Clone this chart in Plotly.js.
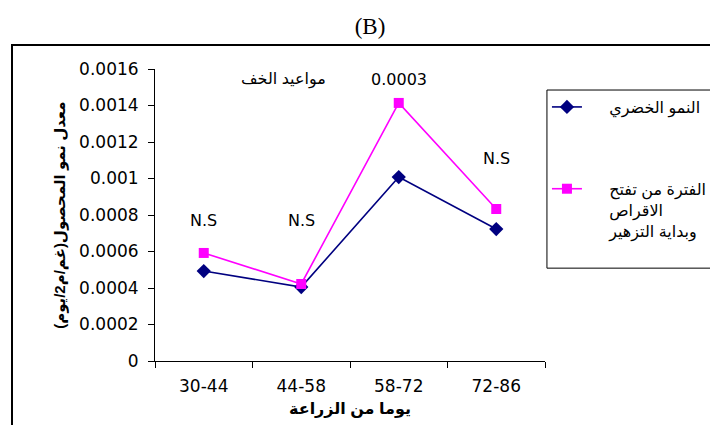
<!DOCTYPE html>
<html>
<head>
<meta charset="utf-8">
<script src="https://cdn.plot.ly/plotly-3.0.1.min.js"></script>
<style>
html,body{margin:0;padding:0;background:#fff;overflow:hidden;}
#chart{width:710px;height:425px;position:relative;overflow:hidden;}
#frame{position:absolute;left:11px;top:44px;width:720px;height:400px;border:2px solid #000;pointer-events:none;}
</style>
</head>
<body>
<div id="chart"></div>
<div id="frame"></div>
<script>
const categories = ['30-44', '44-58', '58-72', '72-86'];
const vegetative = [0.000493, 0.000405, 0.001008, 0.000723];
const flowering = [0.000592, 0.000422, 0.001414, 0.000833];
const pad = '\u00A0\u00A0\u00A0\u00A0\u00A0';
const seriesNames = [pad + 'النمو الخضري',
  pad + 'الفترة من تفتح<br>' + pad + 'الاقراص<br>' + pad + 'وبداية التزهير'];
const yTicks = [0, 0.0002, 0.0004, 0.0006, 0.0008, 0.001, 0.0012, 0.0014, 0.0016];
const yTickText = ['0', '0.0002', '0.0004', '0.0006', '0.0008', '0.001', '0.0012', '0.0014', '0.0016'];
const sigLabels = ['N.S', 'N.S', '0.0003', 'N.S'];
const sigY = [0.00077, 0.00077, 0.00154, 0.00111];

const numFont = 'DejaVu Sans, Arial, sans-serif';
const arFont = 'Arial, DejaVu Sans, sans-serif';

const traces = [
  {x: categories, y: vegetative, name: seriesNames[0], type: 'scatter', mode: 'lines+markers',
   legendgroup: 'a',
   line: {color: '#000080', width: 1.6}, marker: {symbol: 'diamond', size: 11, color: '#000080'}},
  {x: categories, y: flowering, name: seriesNames[1], type: 'scatter', mode: 'lines+markers',
   legendgroup: 'b',
   line: {color: '#FF00FF', width: 1.6}, marker: {symbol: 'square', size: 10, color: '#FF00FF'}}
];

const annotations = categories.map((c, i) => ({
  x: c, y: sigY[i], xref: 'x', yref: 'y', text: sigLabels[i], showarrow: false,
  xanchor: 'center', yanchor: 'middle',
  font: {family: numFont, size: 16, color: '#000'}
}));
annotations.push({x: 0.82, y: 0.00154, xref: 'x', yref: 'y', text: 'مواعيد الخف', showarrow: false,
  xanchor: 'center', yanchor: 'middle',
  font: {family: arFont, size: 16, color: '#000'}});
annotations.push({x: -0.244, y: 0.5, xref: 'paper', yref: 'paper', textangle: -90,
  xanchor: 'center', yanchor: 'middle',
  text: '<b>معدل نمو المحصول(غم/م2/يوم)</b>', showarrow: false,
  font: {family: arFont, size: 15, color: '#000'}});
annotations.push({x: 0.5, y: -0.163, xref: 'paper', yref: 'paper',
  xanchor: 'center', yanchor: 'middle',
  text: '<b>يوما من الزراعة</b>', showarrow: false,
  font: {family: arFont, size: 16, color: '#000'}});

const layout = {
  width: 710, height: 425,
  margin: {l: 155, r: 165, t: 69, b: 64, autoexpand: false},
  paper_bgcolor: '#fff', plot_bgcolor: '#fff',
  title: {text: '(B)', x: 370/710, xref: 'container', xanchor: 'center', y: 1 - 26/425, yref: 'container', yanchor: 'middle',
    font: {family: 'Liberation Serif, Times New Roman, serif', size: 23, color: '#000'}},
  xaxis: {type: 'category', range: [-0.5, 3.5], showline: true, linecolor: '#000', linewidth: 1,
    ticks: 'outside', tickson: 'boundaries', ticklen: 6, tickcolor: '#000', showgrid: false, zeroline: false,
    ticklabelstandoff: 10, tickfont: {family: numFont, size: 17, color: '#000'}},
  yaxis: {range: [0, 0.0016], tickvals: yTicks, ticktext: yTickText, showline: true, linecolor: '#000',
    linewidth: 1, ticks: 'outside', ticklen: 6, tickcolor: '#000', showgrid: false, zeroline: false,
    ticklabelstandoff: 6, tickfont: {family: numFont, size: 17, color: '#000'}},
  showlegend: true,
  legend: {x: 1.005, xanchor: 'left', y: 0.928, yanchor: 'top', borderwidth: 0,
    bgcolor: 'rgba(0,0,0,0)', traceorder: 'grouped', tracegroupgap: 58, valign: 'top',
    font: {family: arFont, size: 16, color: '#000'}},
  shapes: [{type: 'rect', xref: 'paper', yref: 'paper', x0: 1.005, x1: 1.6, y0: 0.318, y1: 0.928,
    line: {color: '#000', width: 1}, fillcolor: 'rgba(0,0,0,0)', layer: 'below'}],
  annotations: annotations
};

Plotly.newPlot('chart', traces, layout, {displayModeBar: false, staticPlot: true});
</script>
</body>
</html>
